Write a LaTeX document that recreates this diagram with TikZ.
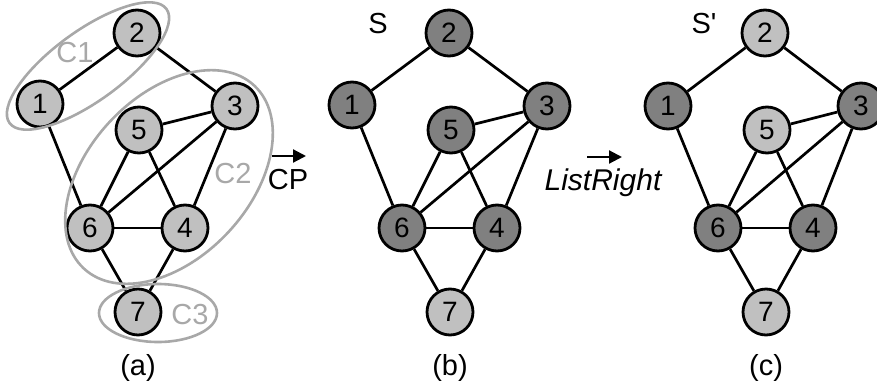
\documentclass[tikz,border=0pt]{standalone}
\usepackage{fontspec}
\setmainfont{Liberation Sans}
\usetikzlibrary{arrows.meta}

\definecolor{lite}{RGB}{192,192,192}
\definecolor{dark}{RGB}{128,128,128}
\definecolor{ring}{RGB}{168,168,168}

\begin{document}
\begin{tikzpicture}[x=0.5pt,y=-0.5pt,
  vx/.style={circle, draw, line width=1.4pt, fill=lite, minimum size=23pt,
             inner sep=0pt, font=\fontsize{14}{16}\selectfont},
  on/.style={vx, fill=dark},
  ed/.style={line width=1.35pt},
  grp/.style={draw=ring, line width=1.3pt},
  glab/.style={text=ring, anchor=base, font=\fontsize{14.5}{16}\selectfont},
  lab/.style={anchor=base, font=\fontsize{14.5}{16}\selectfont},
  arr/.style={-{Triangle[length=6.5pt,width=6.5pt]}, line width=1.1pt}]
\useasboundingbox (0,0) rectangle (877,391);
% ---- (a): clusters of the graph ----
\node[vx] (a1) at (40,104)  {1};
\node[vx] (a2) at (137,33)  {2};
\node[vx] (a3) at (235,106) {3};
\node[vx] (a5) at (139,130) {5};
\node[vx] (a6) at (90,228)  {6};
\node[vx] (a4) at (185,228) {4};
\node[vx] (a7) at (138,312) {7};
% ---- (b): set S ----
\node[on] (b1) at (352,105) {1};
\node[on] (b2) at (449,33)  {2};
\node[on] (b3) at (547,106) {3};
\node[on] (b5) at (451,130) {5};
\node[on] (b6) at (402,228) {6};
\node[on] (b4) at (497,228) {4};
\node[vx] (b7) at (450,312) {7};
% ---- (c): set S' ----
\node[on] (c1) at (668,106) {1};
\node[vx] (c2) at (765,33)  {2};
\node[on] (c3) at (861,106) {3};
\node[vx] (c5) at (767,130) {5};
\node[on] (c6) at (718,228) {6};
\node[on] (c4) at (813,228) {4};
\node[vx] (c7) at (766,312) {7};
% ---- edges, same in every panel ----
\foreach \p in {a,b,c}
  \foreach \u/\v in {1/2,2/3,1/6,3/5,3/6,3/4,5/6,5/4,6/4,6/7,4/7}
    \draw[ed] (\p\u) -- (\p\v);
% ---- cluster outlines ----
\draw[grp, rotate around={36:(88,66)}] (88,66) ellipse [x radius=97, y radius=35];
\draw[grp, rotate around={47:(169,177)}] (169,177) ellipse [x radius=125, y radius=81];
\draw[grp] (158,313) ellipse [x radius=59, y radius=29];
\node[glab] (k1) at (75,62)   {C1};
\node[glab] (k2) at (233,183) {C2};
\node[glab] (k3) at (190,324) {C3};
% ---- set names ----
\node[lab] (s)  at (378,33) {S};
\node[lab] (s2) at (704,33) {S\textquotesingle};
% ---- operators between panels ----
\node[lab] (cp) at (288,189) {CP};
\coordinate (cpa) at (272,156);
\coordinate (cpb) at (306,156);
\draw[arr] (cpa) -- (cpb);
\node[lab, font=\fontsize{15}{16}\selectfont\itshape] (lr) at (603,190) {ListRight};
\coordinate (lra) at (587,157);
\coordinate (lrb) at (622,157);
\draw[arr] (lra) -- (lrb);
% ---- captions ----
\node[lab] (capa) at (138,375) {(a)};
\node[lab] (capb) at (450,375) {(b)};
\node[lab] (capc) at (766,375) {(c)};
\end{tikzpicture}
\end{document}
